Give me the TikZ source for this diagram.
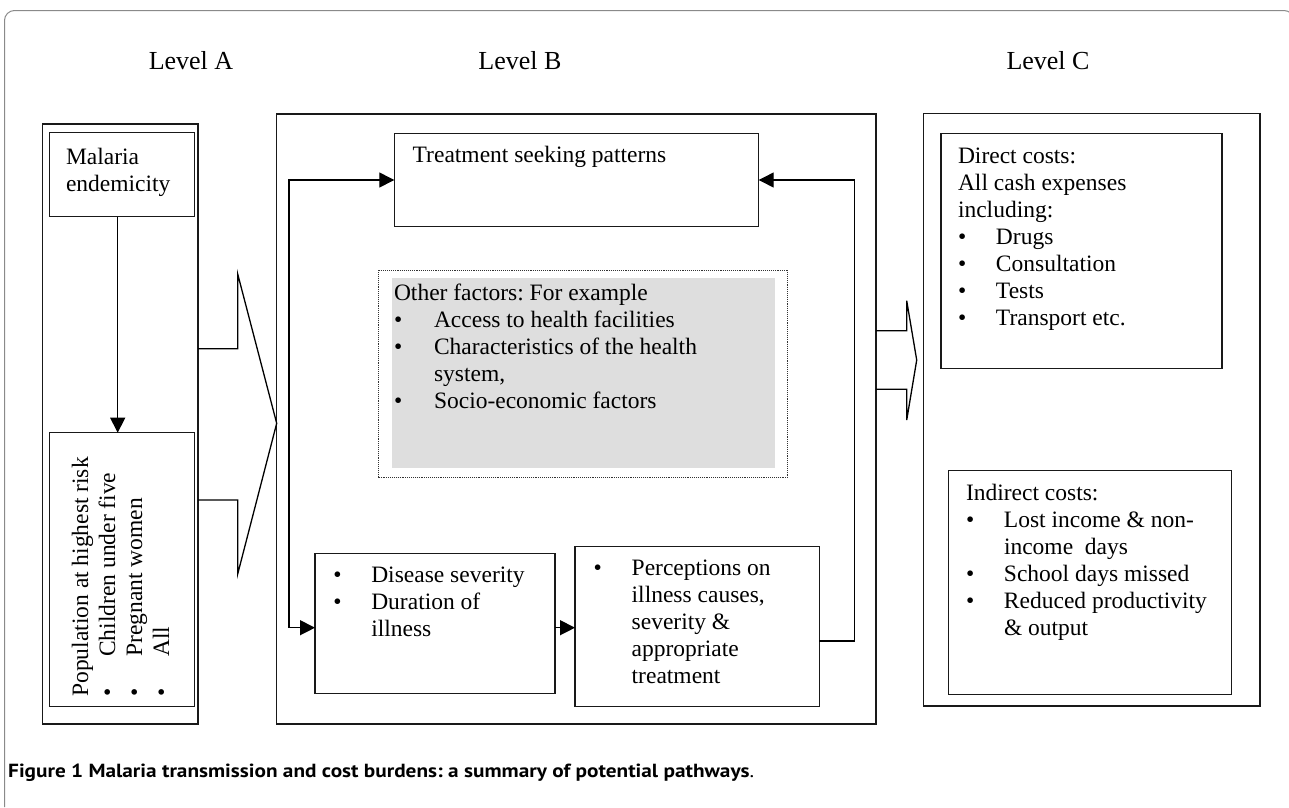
\documentclass[tikz,border=0pt]{standalone}
\usepackage{fontspec}
\setmainfont{Liberation Serif}
\newfontfamily\capfont{PT Sans}
\usetikzlibrary{arrows.meta}
\definecolor{shadegray}{HTML}{DEDEDE}
\definecolor{framegray}{HTML}{8A8A8A}
\newcommand{\bul}[1][38pt]{\makebox[#1][l]{\textbullet}}
\newcommand{\fs}{\fontsize{23.5}{27}\selectfont}
\newcommand{\lvfs}{\fontsize{26}{30}\selectfont}
\frenchspacing
\begin{document}
\begin{tikzpicture}[x=1pt,y=-1pt,
  box/.style={draw=black!90, line width=1.5pt, inner sep=0pt, outer sep=0pt},
  txt/.style={inner sep=0pt, outer sep=0pt, anchor=base west, font=\fs},
  lvl/.style={inner sep=0pt, anchor=base, font=\lvfs},
  arr/.style={line width=1.3pt, draw=black, -{Triangle[length=15pt,width=15pt]}},
  darr/.style={line width=1.3pt, draw=black, {Triangle[length=15pt,width=15pt]}-{Triangle[length=15pt,width=15pt]}},
  blockarrow/.style={line width=1.3pt, draw=black, line join=miter},
  dotbox/.style={draw=black!80, line width=0.9pt, dash pattern=on 0.9pt off 1pt, inner sep=0pt},
  shade/.style={fill=shadegray, draw=none, inner sep=0pt}]
\useasboundingbox (0,0) rectangle (1289,807);
% page frame
\draw[framegray, line width=1pt, rounded corners=10pt] (4.5,807) -- (4.5,10.5) -- (1294,10.5) -- (1294,80);
% level labels
\node[lvl] (lvA) at (191,69) {Level A};
\node[lvl] (lvB) at (520,69) {Level B};
\node[lvl] (lvC) at (1048,69) {Level C};
% level A
\node[box, minimum width=155.7pt, minimum height=600pt] (A) at (120.15,424) {};
\node[box, minimum width=145.4pt, minimum height=84pt] (mal) at (122,174.7) {};
\node[box, minimum width=145.4pt, minimum height=274pt] (pop) at (122,569.7) {};
\node[txt] (maltxt) at (66,164) {\begin{tabular}[t]{@{}l@{}}Malaria\\endemicity\end{tabular}};
\node[txt, rotate=90] (poptxt) at (88,696.7) {\begin{tabular}[t]{@{}l@{}}Population at highest risk\\\bul[40pt]Children under five\\\bul[40pt]Pregnant women\\\bul[40pt]All\end{tabular}};
\draw[arr] ([xshift=-4.3pt]mal.south) -- ([xshift=-4.3pt]pop.north);
% level B
\node[box, minimum width=599.3pt, minimum height=610pt] (B) at (576.35,419) {};
\node[box, minimum width=364.4pt, minimum height=93.4pt] (treat) at (576.5,180) {};
\node[txt] (treattxt) at (412.7,162.7) {Treatment seeking patterns};
\node[dotbox, minimum width=409pt, minimum height=207.7pt] (dot) at (583.2,373.85) {};
\node[shade, minimum width=382.7pt, minimum height=190pt] (gray) at (583.65,373.3) {};
\node[txt] (othtxt) at (394,300) {\begin{tabular}[t]{@{}l@{}}Other factors: For example\\\bul[40pt]Access to health facilities\\\bul[40pt]Characteristics of the health\\\hspace*{40pt}system,\\\bul[40pt]Socio-economic factors\end{tabular}};
\node[box, minimum width=240pt, minimum height=140pt] (dis) at (435,623.3) {};
\node[txt] (distxt) at (333.3,582.7) {\begin{tabular}[t]{@{}l@{}}\bul Disease severity\\\bul Duration of\\\hspace*{38pt}illness\end{tabular}};
\node[box, minimum width=244.3pt, minimum height=160pt] (per) at (697.15,626.7) {};
\node[txt] (pertxt) at (593.7,575) {\begin{tabular}[t]{@{}l@{}}\bul Perceptions on\\\hspace*{38pt}illness causes,\\\hspace*{38pt}severity \&\\\hspace*{38pt}appropriate\\\hspace*{38pt}treatment\end{tabular}};
% loops
\coordinate (lx) at (289,0);
\coordinate (rx) at (854.3,0);
\coordinate (d0) at ([yshift=-4.4pt]dis.west);
\coordinate (d1) at ([yshift=-4.4pt]dis.east);
\coordinate (r1) at ([yshift=-14.3pt]per.east);
\draw[darr] (treat.west) -- (treat.west -| lx) |- (d0);
\draw[arr] (d1) -- (d1 -| per.west);
\draw[arr] (r1) -- (r1 -| rx) |- (treat.east);
% level C
\node[box, minimum width=336.7pt, minimum height=592.7pt] (C) at (1091.65,409.65) {};
\node[box, minimum width=281pt, minimum height=235pt] (dir) at (1081.5,250.8) {};
\node[txt] (dirtxt) at (958,163) {\begin{tabular}[t]{@{}l@{}}Direct costs:\\All cash expenses\\including:\\\bul Drugs\\\bul Consultation\\\bul Tests\\\bul Transport etc.\end{tabular}};
\node[box, minimum width=283pt, minimum height=223.6pt] (ind) at (1090.2,582.5) {};
\node[txt] (indtxt) at (966,500) {\begin{tabular}[t]{@{}l@{}}Indirect costs:\\\bul Lost income \& non-\\\hspace*{38pt}income\ \ days\\\bul School days missed\\\bul Reduced productivity\\\hspace*{38pt}\& output\end{tabular}};
% block arrows
\draw[blockarrow] (A.east |- 0,348.7) -- (237.7,348.7) -- (237.7,274) -- (B.west |- 0,423.3) -- (237.7,574) -- (237.7,500) -- (A.east |- 0,500);
\draw[blockarrow] (B.east |- 0,330.7) -- (906.7,330.7) -- (906.7,300.7) -- (916.7,360) -- (906.7,420) -- (906.7,389.3) -- (B.east |- 0,389.3);
% caption
\node[inner sep=0pt, anchor=base west, font=\fontsize{19}{22}\selectfont\capfont] (cap) at (8,777) {\resizebox{746pt}{\height}{\textbf{Figure 1 Malaria transmission and cost burdens: a summary of potential pathways}.}};
\end{tikzpicture}
\end{document}
